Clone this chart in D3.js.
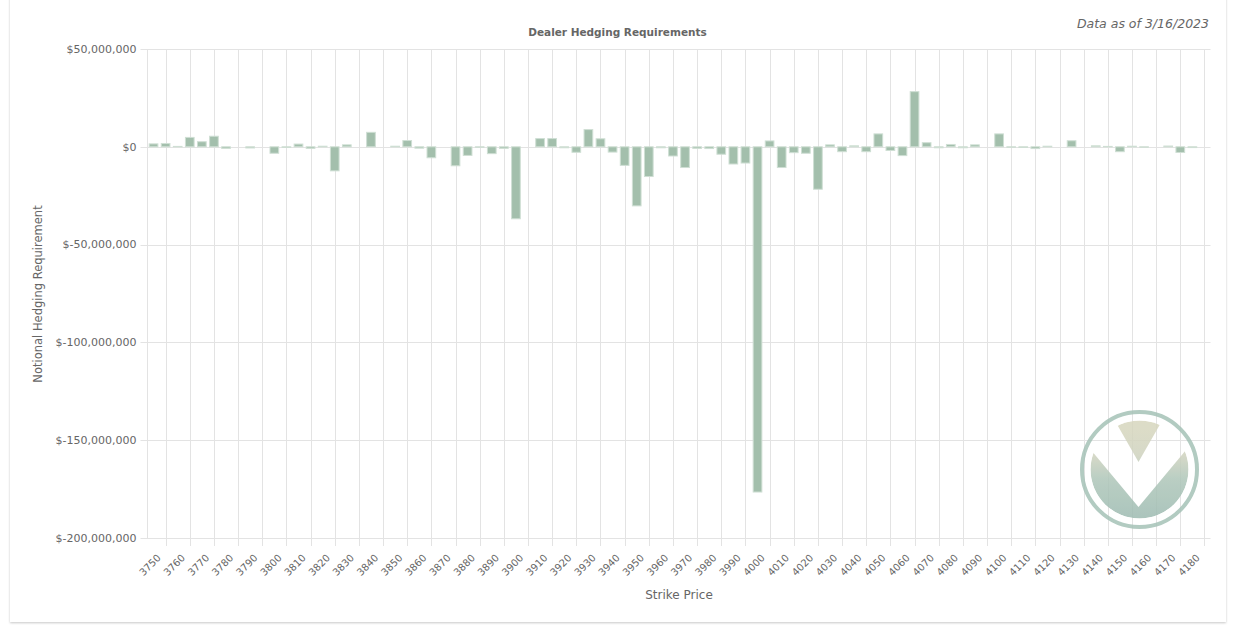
<!DOCTYPE html>
<html><head><meta charset="utf-8">
<script src="https://cdn.jsdelivr.net/npm/d3@7"></script>
<style>
html,body{margin:0;padding:0;background:#fff;}
svg{display:block;}
text{font-family:"DejaVu Sans",sans-serif;fill:#666;}
</style></head>
<body>
<svg id="chart" width="1235" height="630"></svg>
<script>
const strikes = [3745,3750,3755,3760,3765,3770,3775,3780,3785,3790,3795,3800,3805,3810,3815,3820,3825,3830,3835,3840,3845,3850,3855,3860,3865,3870,3875,3880,3885,3890,3895,3900,3905,3910,3915,3920,3925,3930,3935,3940,3945,3950,3955,3960,3965,3970,3975,3980,3985,3990,3995,4000,4005,4010,4015,4020,4025,4030,4035,4040,4045,4050,4055,4060,4065,4070,4075,4080,4085,4090,4095,4100,4105,4110,4115,4120,4125,4130,4135,4140,4145,4150,4155,4160,4165,4170,4175,4180];
// notional hedging requirement, in millions of dollars
const hedgeM = [1.5,1.7,0.2,4.8,2.6,5.4,-0.8,0,-0.6,0,-3.3,-0.3,1.4,-0.8,0.3,-12.3,1.0,0,7.4,0,0.3,3.2,-0.7,-5.6,0,-9.7,-4.4,-0.2,-3.5,-0.8,-36.8,0,4.2,4.2,-0.5,-2.8,8.8,4.1,-2.7,-9.5,-30.2,-15.2,-0.5,-4.7,-10.6,-0.8,-0.9,-3.8,-8.8,-8.3,-176.5,3.0,-10.6,-3.0,-3.3,-21.7,1.0,-2.5,0.5,-2.5,6.6,-1.9,-4.5,28.2,2.1,-0.5,1.2,-0.5,1.0,0,6.6,-0.2,-0.3,-0.9,0.3,0,3.1,0,0.5,0.2,-2.5,0.3,-0.2,0,0.4,-2.9,-0.4,0];
const xTickLabels = [3750,3760,3770,3780,3790,3800,3810,3820,3830,3840,3850,3860,3870,3880,3890,3900,3910,3920,3930,3940,3950,3960,3970,3980,3990,4000,4010,4020,4030,4040,4050,4060,4070,4080,4090,4100,4110,4120,4130,4140,4150,4160,4170,4180];
const yTicks = [50e6,0,-50e6,-100e6,-150e6,-200e6];
const title = "Dealer Hedging Requirements";
const asOf = "Data as of 3/16/2023";

const svg = d3.select("#chart");
const L = 147.5, R = 1210.5, T = 49, B = 538;

// card
const defs = svg.append("defs");
const f = defs.append("filter").attr("id","sh").attr("x","-5%").attr("y","-5%").attr("width","110%").attr("height","110%");
f.append("feDropShadow").attr("dx",0).attr("dy",1).attr("stdDeviation",1.2).attr("flood-color","#000").attr("flood-opacity",0.22);
svg.append("rect").attr("x",10).attr("y",-5).attr("width",1216).attr("height",627).attr("fill","#fff").attr("filter","url(#sh)");

const x = d3.scaleBand().domain(strikes).range([L,R]).paddingInner(0).paddingOuter(0);
const y = d3.scaleLinear().domain([-200e6,50e6]).range([B,T]);
const cxOf = d => x(d)+x.bandwidth()/2;

const g = svg.append("g");
// horizontal grid
g.append("g").selectAll("line").data(yTicks).join("line")
  .attr("x1",L-7).attr("x2",R).attr("y1",d=>Math.round(y(d))+0.5).attr("y2",d=>Math.round(y(d))+0.5)
  .attr("stroke","#e3e3e3").attr("stroke-width",1);
// vertical grid
g.append("line").attr("x1",L).attr("x2",L).attr("y1",T).attr("y2",B).attr("stroke","#e3e3e3");
g.append("g").selectAll("line").data(xTickLabels).join("line")
  .attr("x1",d=>Math.round(cxOf(d))+0.5).attr("x2",d=>Math.round(cxOf(d))+0.5)
  .attr("y1",T).attr("y2",B+8).attr("stroke","#e3e3e3");

// y labels
const fmt = v => v<0 ? "$-"+d3.format(",")(-v) : "$"+d3.format(",")(v);
g.append("g").selectAll("text").data(yTicks).join("text")
  .attr("x",L-11).attr("y",d=>y(d)).attr("dy","0.35em").attr("text-anchor","end")
  .attr("font-size",11).text(fmt);

// x labels
g.append("g").selectAll("text").data(xTickLabels).join("text")
  .attr("transform",d=>`translate(${cxOf(d)-6.5},${B+18}) rotate(-45)`)
  .attr("text-anchor","end").attr("dy","0.35em").attr("font-size",10).text(d=>d);

// bars
const bw = x.bandwidth()*0.72;
g.append("g").selectAll("rect").data(strikes.map((s,i)=>({s,v:hedgeM[i]*1e6}))).join("rect")
  .attr("x",d=>x(d.s)+(x.bandwidth()-bw)/2)
  .attr("y",d=>Math.min(y(d.v),y(0)))
  .attr("width",bw)
  .attr("height",d=>Math.abs(y(d.v)-y(0)))
  .attr("fill","#a3bfac").attr("stroke","#cfdfd4").attr("stroke-width",1)
  .attr("display",d=>d.v===0?"none":null);

// titles
svg.append("text").attr("x",617.5).attr("y",32).attr("dy","0.35em").attr("text-anchor","middle")
  .attr("font-size",10.5).attr("font-weight","bold").text(title);
svg.append("text").attr("x",1209).attr("y",24).attr("dy","0.35em").attr("text-anchor","end")
  .attr("font-size",12.5).attr("font-style","italic").text(asOf);
svg.append("text").attr("transform","translate(38,294) rotate(-90)").attr("text-anchor","middle").attr("dy","0.35em")
  .attr("font-size",11.5).text("Notional Hedging Requirement");
svg.append("text").attr("x",(L+R)/2).attr("y",595).attr("dy","0.35em").attr("text-anchor","middle")
  .attr("font-size",12).text("Strike Price");

// logo
const lcx=1139.5, lcy=469.5, vx=1138.5;
const grad = defs.append("linearGradient").attr("id","lg").attr("gradientUnits","userSpaceOnUse")
  .attr("x1",lcx).attr("y1",lcy-49).attr("x2",lcx).attr("y2",lcy+49);
grad.append("stop").attr("offset","0%").attr("stop-color","#d8d7be");
grad.append("stop").attr("offset","35%").attr("stop-color","#d0d3bf");
grad.append("stop").attr("offset","60%").attr("stop-color","#aec6b9");
grad.append("stop").attr("offset","100%").attr("stop-color","#9dbbb1");
const vmask = defs.append("mask").attr("id","vm").attr("maskUnits","userSpaceOnUse");
vmask.append("circle").attr("cx",lcx).attr("cy",lcy).attr("r",49).attr("fill","#fff");
const vOuterY = 507, vInnerY = 462, slopeO = 1.2, slopeI = 1.75, vTopY = 395;
const vpts = [[vx-(vOuterY-vTopY)/slopeO,vTopY],[vx-(vInnerY-vTopY)/slopeI,vTopY],[vx,vInnerY],[vx+(vInnerY-vTopY)/slopeI,vTopY],[vx+(vOuterY-vTopY)/slopeO,vTopY],[vx,vOuterY]];
vmask.append("polygon").attr("points",vpts.map(p=>p.join(",")).join(" ")).attr("fill","#000");
const logo = svg.append("g").attr("opacity",0.85);
logo.append("circle").attr("cx",lcx).attr("cy",lcy).attr("r",57.5).attr("fill","none").attr("stroke","#a5c2b7").attr("stroke-width",4);
logo.append("circle").attr("cx",lcx).attr("cy",lcy).attr("r",49).attr("fill","url(#lg)").attr("mask","url(#vm)");
</script>
</body></html>
